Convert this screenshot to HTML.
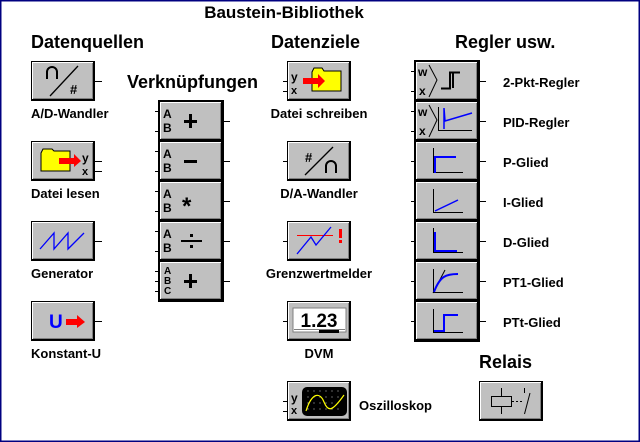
<!DOCTYPE html>
<html><head><meta charset="utf-8"><style>
html,body{margin:0;padding:0;background:#fff}
svg{display:block}
text{font-family:"Liberation Sans",sans-serif;font-weight:bold;fill:#000}
.h{font-size:18px}
.l{font-size:13px}
</style></head><body>
<svg width="640" height="442" viewBox="0 0 640 442" xmlns="http://www.w3.org/2000/svg">
<defs>
<g id="b">
<rect x="0" y="0" width="64" height="40" fill="#000"/>
<rect x="1" y="1" width="61" height="37" fill="#fff"/>
<rect x="2" y="2" width="60" height="36" fill="#808080"/>
<rect x="2" y="2" width="59" height="35" fill="#c0c0c0"/>
</g>
</defs>
<rect x="0.5" y="0.5" width="639" height="441" fill="#fff" stroke="#000080" stroke-width="2"/>

<text x="284" y="18" class="h" text-anchor="middle" style="font-size:17px">Baustein-Bibliothek</text>
<text x="31" y="48" class="h">Datenquellen</text>
<text x="271" y="48" class="h">Datenziele</text>
<text x="455" y="48" class="h">Regler usw.</text>
<text x="127" y="88" class="h">Verknüpfungen</text>
<text x="479" y="368" class="h">Relais</text>

<g stroke="#000" stroke-width="1">
<line x1="95" y1="81.5" x2="102" y2="81.5"/>
<line x1="95" y1="161.5" x2="102" y2="161.5"/>
<line x1="95" y1="171.5" x2="102" y2="171.5"/>
<line x1="95" y1="241.5" x2="102" y2="241.5"/>
<line x1="95" y1="321.5" x2="102" y2="321.5"/>
<line x1="155" y1="111.5" x2="159" y2="111.5"/><line x1="155" y1="131.5" x2="159" y2="131.5"/><line x1="223" y1="121.5" x2="230" y2="121.5"/>
<line x1="155" y1="151.5" x2="159" y2="151.5"/><line x1="155" y1="171.5" x2="159" y2="171.5"/><line x1="223" y1="161.5" x2="230" y2="161.5"/>
<line x1="155" y1="191.5" x2="159" y2="191.5"/><line x1="155" y1="211.5" x2="159" y2="211.5"/><line x1="223" y1="201.5" x2="230" y2="201.5"/>
<line x1="155" y1="231.5" x2="159" y2="231.5"/><line x1="155" y1="251.5" x2="159" y2="251.5"/><line x1="223" y1="241.5" x2="230" y2="241.5"/>
<line x1="155" y1="271.5" x2="159" y2="271.5"/><line x1="155" y1="281.5" x2="159" y2="281.5"/><line x1="155" y1="291.5" x2="159" y2="291.5"/><line x1="223" y1="281.5" x2="230" y2="281.5"/>
<line x1="283" y1="81.5" x2="287" y2="81.5"/><line x1="283" y1="91.5" x2="287" y2="91.5"/>
<line x1="283" y1="161.5" x2="287" y2="161.5"/>
<line x1="283" y1="241.5" x2="287" y2="241.5"/>
<line x1="283" y1="321.5" x2="287" y2="321.5"/>
<line x1="283" y1="401.5" x2="287" y2="401.5"/><line x1="283" y1="411.5" x2="287" y2="411.5"/>
<line x1="411" y1="71.5" x2="415" y2="71.5"/><line x1="411" y1="91.5" x2="415" y2="91.5"/><line x1="479" y1="81.5" x2="486" y2="81.5"/>
<line x1="411" y1="111.5" x2="415" y2="111.5"/><line x1="411" y1="131.5" x2="415" y2="131.5"/><line x1="479" y1="121.5" x2="486" y2="121.5"/>
<line x1="411" y1="161.5" x2="415" y2="161.5"/><line x1="479" y1="161.5" x2="486" y2="161.5"/>
<line x1="411" y1="201.5" x2="415" y2="201.5"/><line x1="479" y1="201.5" x2="486" y2="201.5"/>
<line x1="411" y1="241.5" x2="415" y2="241.5"/><line x1="479" y1="241.5" x2="486" y2="241.5"/>
<line x1="411" y1="281.5" x2="415" y2="281.5"/><line x1="479" y1="281.5" x2="486" y2="281.5"/>
<line x1="411" y1="321.5" x2="415" y2="321.5"/><line x1="479" y1="321.5" x2="486" y2="321.5"/>
</g>

<!-- Left column -->
<use href="#b" x="31" y="61"/>
<path d="M47 79 L47 72 A5 5 0 0 1 57 72 L57 79" fill="none" stroke="#000" stroke-width="2"/>
<line x1="50" y1="96" x2="78" y2="66" stroke="#000" stroke-width="1.3"/>
<text x="70" y="94" style="font-size:13px">#</text>
<text x="31" y="118" class="l">A/D-Wandler</text>

<use href="#b" x="31" y="141"/>
<path d="M41 153 L43 149 L52 149 L54 151 L70 151 L70 171 L41 171 Z" fill="#ff0" stroke="#000"/>
<path d="M59 158 L74 158 L74 154 L81 161 L74 167 L74 164 L59 164 Z" fill="#f00"/>
<text x="82" y="162" style="font-size:12px">y</text><text x="82" y="175" style="font-size:11px">x</text>
<text x="31" y="198" class="l">Datei lesen</text>

<use href="#b" x="31" y="221"/>
<path d="M40 249 L54 233 L54 249 L68 233 L68 249 L84 233" fill="none" stroke="#00f" stroke-width="1.3"/>
<text x="31" y="278" class="l">Generator</text>

<use href="#b" x="31" y="301"/>
<text x="49" y="328" style="font-size:19px;fill:#00f">U</text>
<path d="M66 319 L77 319 L77 315 L85 322 L77 328 L77 325 L66 325 Z" fill="#f00"/>
<text x="31" y="358" class="l">Konstant-U</text>

<!-- Verknüpfungen -->
<rect x="158" y="100" width="66" height="202" fill="#000"/>
<use href="#b" x="159" y="101"/><use href="#b" x="159" y="141"/><use href="#b" x="159" y="181"/><use href="#b" x="159" y="221"/><use href="#b" x="159" y="261"/>
<g style="font-size:12px">
<text x="163" y="118">A</text><text x="163" y="132">B</text>
<text x="163" y="158">A</text><text x="163" y="172">B</text>
<text x="163" y="198">A</text><text x="163" y="212">B</text>
<text x="163" y="238">A</text><text x="163" y="252">B</text>
<text x="164" y="274" style="font-size:10px">A</text><text x="164" y="284" style="font-size:10px">B</text><text x="164" y="294" style="font-size:10px">C</text>
</g>
<g fill="#000">
<rect x="184" y="120" width="13" height="3"/><rect x="189" y="114" width="3" height="14"/>
<rect x="184" y="160" width="13" height="3"/>
<rect x="181" y="240" width="21" height="2"/><rect x="190" y="234" width="3" height="3"/><rect x="190" y="245" width="3" height="3"/>
<rect x="184" y="280" width="13" height="3"/><rect x="189" y="274" width="3" height="14"/>
</g>
<text x="182" y="214" style="font-size:24px">*</text>

<!-- Datenziele -->
<use href="#b" x="287" y="61"/>
<text x="291" y="81" style="font-size:12px">y</text><text x="291" y="94" style="font-size:11px">x</text>
<path d="M312 72 L314 68 L322 68 L324 71 L341 71 L341 91 L312 91 Z" fill="#ff0" stroke="#000"/>
<path d="M303 78 L318 78 L318 74 L325 81 L318 88 L318 84 L303 84 Z" fill="#f00"/>
<text x="319" y="118" class="l" text-anchor="middle">Datei schreiben</text>

<use href="#b" x="287" y="141"/>
<text x="305" y="162" style="font-size:13px">#</text>
<line x1="305" y1="175" x2="333" y2="147" stroke="#000" stroke-width="1.3"/>
<path d="M326 173 L326 166 A5 5 0 0 1 336 166 L336 173" fill="none" stroke="#000" stroke-width="2"/>
<text x="319" y="198" class="l" text-anchor="middle">D/A-Wandler</text>

<use href="#b" x="287" y="221"/>
<line x1="297" y1="235.5" x2="333" y2="235.5" stroke="#f00"/>
<path d="M297 254 L311 237 L316 245 L331 227" fill="none" stroke="#00f" stroke-width="1.3"/>
<rect x="339" y="229" width="3" height="9" fill="#f00"/><rect x="339" y="240" width="3" height="3" fill="#f00"/>
<text x="319" y="278" class="l" text-anchor="middle">Grenzwertmelder</text>

<use href="#b" x="287" y="301"/>
<rect x="293" y="308" width="53" height="24" fill="#fff" stroke="#808080"/>
<line x1="294" y1="329.5" x2="345" y2="329.5" stroke="#808080"/>
<rect x="319" y="330" width="20" height="3" fill="#000"/>
<text x="319" y="327" text-anchor="middle" style="font-size:19px">1.23</text>
<text x="319" y="358" class="l" text-anchor="middle">DVM</text>

<use href="#b" x="287" y="381"/>
<text x="291" y="402" style="font-size:12px">y</text><text x="291" y="414" style="font-size:11px">x</text>
<rect x="302" y="387" width="45" height="29" rx="5" fill="#000"/>
<g fill="#fff">
<circle cx="308" cy="391" r=".5"/><circle cx="314" cy="391" r=".5"/><circle cx="320" cy="391" r=".5"/><circle cx="326" cy="391" r=".5"/><circle cx="332" cy="391" r=".5"/><circle cx="338" cy="391" r=".5"/>
<circle cx="308" cy="397" r=".5"/><circle cx="314" cy="397" r=".5"/><circle cx="320" cy="397" r=".5"/><circle cx="326" cy="397" r=".5"/><circle cx="332" cy="397" r=".5"/><circle cx="338" cy="397" r=".5"/>
<circle cx="308" cy="403" r=".5"/><circle cx="314" cy="403" r=".5"/><circle cx="320" cy="403" r=".5"/><circle cx="326" cy="403" r=".5"/><circle cx="332" cy="403" r=".5"/><circle cx="338" cy="403" r=".5"/>
<circle cx="308" cy="409" r=".5"/><circle cx="314" cy="409" r=".5"/><circle cx="320" cy="409" r=".5"/><circle cx="326" cy="409" r=".5"/><circle cx="332" cy="409" r=".5"/><circle cx="338" cy="409" r=".5"/>
</g>
<path d="M306 411 C312 392 320 392 324 402 C328 412 332 412 344 395" fill="none" stroke="#ff0" stroke-width="1.2"/>
<text x="359" y="410" class="l">Oszilloskop</text>

<!-- Regler -->
<rect x="414" y="60" width="66" height="282" fill="#000"/>
<use href="#b" x="415" y="61"/><use href="#b" x="415" y="101"/><use href="#b" x="415" y="141"/><use href="#b" x="415" y="181"/><use href="#b" x="415" y="221"/><use href="#b" x="415" y="261"/><use href="#b" x="415" y="301"/>
<g style="font-size:12px">
<text x="418" y="76">w</text><text x="419" y="95">x</text>
<text x="418" y="116">w</text><text x="419" y="135">x</text>
</g>
<g fill="none" stroke="#000">
<path d="M429 65 L437 80 L429 97"/><path d="M429 105 L437 120 L429 137"/>
<path d="M441 88.5 L450 88.5 L450 72.5 L460 72.5 M453 72.5 L453 88" stroke-width="2"/>
<line x1="439" y1="130.5" x2="472" y2="130.5"/><line x1="438.5" y1="107" x2="438.5" y2="131"/>
<line x1="433.5" y1="148" x2="433.5" y2="173"/><line x1="433" y1="172.5" x2="463" y2="172.5"/>
<line x1="433.5" y1="189" x2="433.5" y2="213"/><line x1="433" y1="212.5" x2="463" y2="212.5"/>
<line x1="433.5" y1="228" x2="433.5" y2="253"/><line x1="433" y1="252.5" x2="463" y2="252.5"/>
<line x1="433.5" y1="269" x2="433.5" y2="293"/><line x1="433" y1="292.5" x2="463" y2="292.5"/><line x1="433" y1="293" x2="445" y2="270"/>
<line x1="433.5" y1="309" x2="433.5" y2="333"/><line x1="433" y1="332.5" x2="463" y2="332.5"/>
</g>
<g fill="none" stroke="#00f" stroke-width="2">
<path d="M444 129 L444 108 L445 121 L472 113" stroke-width="1.5"/>
<path d="M435 173 L435 157 L456 157"/>
<path d="M435 211 L458 200" stroke-width="1.5"/>
<path d="M435 232 L435 251 L457 251"/>
<path d="M434 292 C440 276 446 274 458 274"/>
<path d="M434 331 L444 331 L444 315 L458 315"/>
</g>
<text x="503" y="87" class="l">2-Pkt-Regler</text>
<text x="503" y="127" class="l">PID-Regler</text>
<text x="503" y="167" class="l">P-Glied</text>
<text x="503" y="207" class="l">I-Glied</text>
<text x="503" y="247" class="l">D-Glied</text>
<text x="503" y="287" class="l">PT1-Glied</text>
<text x="503" y="327" class="l">PTt-Glied</text>

<!-- Relais -->
<use href="#b" x="479" y="381"/>
<g fill="none" stroke="#000">
<rect x="491.5" y="396.5" width="20" height="10"/>
<line x1="501.5" y1="388" x2="501.5" y2="396"/><line x1="501.5" y1="407" x2="501.5" y2="414"/>
<line x1="512" y1="401.5" x2="524" y2="401.5" stroke-dasharray="2,2"/>
<line x1="524.5" y1="388" x2="524.5" y2="393"/><line x1="530" y1="393" x2="524.5" y2="414"/>
</g>
</svg>
</body></html>
